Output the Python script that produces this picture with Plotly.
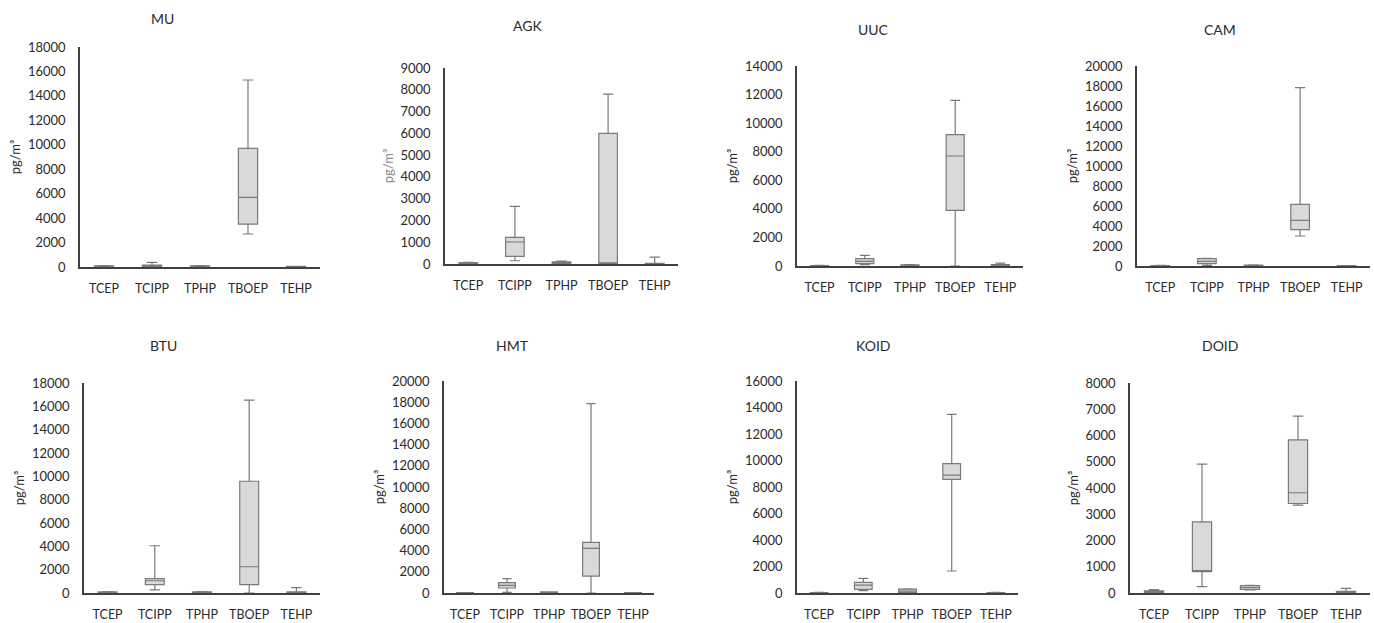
import plotly.graph_objects as go

W, H = 1374, 623

categories = ["TCEP", "TCIPP", "TPHP", "TBOEP", "TEHP"]
panel_names = ["MU", "AGK", "UUC", "CAM", "BTU", "HMT", "KOID", "DOID"]

# per category: [min, q1, median, q3, max]  (pg/m3)
MU = [[0, 20, 50, 100, 120], [10, 50, 100, 150, 380], [0, 20, 50, 100, 120],
      [2700, 3500, 5700, 9700, 15300], [0, 10, 20, 50, 60]]
AGK = [[0, 20, 40, 70, 80], [150, 350, 1010, 1220, 2650], [0, 20, 60, 100, 130],
       [0, 10, 20, 6000, 7800], [0, 5, 10, 30, 320]]
UUC = [[0, 5, 10, 30, 40], [100, 160, 330, 510, 750], [0, 20, 40, 80, 90],
       [0, 3900, 7700, 9190, 11600], [0, 20, 60, 100, 200]]
CAM = [[0, 10, 20, 50, 60], [70, 230, 470, 730, 770], [0, 30, 60, 100, 120],
       [3000, 3630, 4570, 6170, 17830], [0, 5, 10, 30, 40]]
BTU = [[0, 20, 50, 100, 120], [260, 710, 1050, 1230, 4050], [0, 20, 50, 100, 120],
       [0, 710, 2250, 9580, 16540], [0, 20, 50, 100, 460]]
HMT = [[0, 5, 10, 30, 40], [60, 470, 720, 975, 1350], [0, 30, 60, 100, 120],
       [0, 1600, 4210, 4780, 17860], [0, 5, 10, 30, 40]]
KOID = [[0, 5, 10, 30, 40], [180, 280, 600, 800, 1100], [0, 50, 150, 300, 320],
        [1660, 8580, 8900, 9760, 13480], [0, 5, 10, 30, 40]]
DOID = [[0, 20, 40, 80, 130], [240, 810, 850, 2710, 4910], [120, 140, 210, 280, 290],
        [3350, 3410, 3820, 5830, 6740], [0, 10, 30, 60, 180]]

panel_data = [MU, AGK, UUC, CAM, BTU, HMT, KOID, DOID]
y_max = [18000, 9000, 14000, 20000, 18000, 20000, 16000, 8000]
y_dtick = [2000, 1000, 2000, 2000, 2000, 2000, 2000, 1000]
y_title = "pg/m³"

# plot areas in pixels: (x0, x1, ytop, ybottom)
areas = [(80, 320, 47, 267), (445, 678, 68, 264), (797, 1023, 66, 266), (1137, 1370, 66, 266),
         (84, 320, 383, 593), (444, 654, 381, 593), (797, 1018, 381, 593), (1130, 1370, 383, 593)]
title_pos = [(162, 18), (527, 25), (873, 30), (1220, 30),
             (163, 345), (512, 345), (873, 345), (1220, 345)]

FONT = "Lato"
TXT = "#2b2b2b"

fig = go.Figure()
layout = dict(width=W, height=H, margin=dict(l=0, r=0, t=0, b=0),
              paper_bgcolor="white", plot_bgcolor="white", showlegend=False,
              font=dict(family=FONT, size=13, color=TXT), annotations=[])

for i, (name, data) in enumerate(zip(panel_names, panel_data)):
    k = i + 1
    xa = "x" if k == 1 else f"x{k}"
    ya = "y" if k == 1 else f"y{k}"
    fig.add_trace(go.Box(
        x=categories,
        lowerfence=[r[0] for r in data],
        q1=[r[1] for r in data],
        median=[r[2] for r in data],
        q3=[r[3] for r in data],
        upperfence=[r[4] for r in data],
        xaxis=xa, yaxis=ya,
        fillcolor="#d9d9d9",
        line=dict(color="#7a7a7a", width=1.2),
        whiskerwidth=0.55,
        width=0.4,
        boxpoints=False,
        hoverinfo="skip",
    ))
    x0, x1, yt, yb = areas[i]
    xkey = "xaxis" if k == 1 else f"xaxis{k}"
    ykey = "yaxis" if k == 1 else f"yaxis{k}"
    layout[xkey] = dict(
        domain=[x0 / W, x1 / W], anchor=ya, range=[-0.5, 4.5],
        showline=True, linecolor="#404040", linewidth=1.5, showgrid=False,
        ticks="", ticklabelstandoff=9, zeroline=False, automargin=False,
        tickfont=dict(family=FONT, size=12.5, color=TXT), fixedrange=True,
    )
    layout[ykey] = dict(
        domain=[1 - yb / H, 1 - yt / H], anchor=xa, range=[0, y_max[i]],
        dtick=y_dtick[i], tick0=0, tickformat="d",
        showline=True, linecolor="#404040", linewidth=1.5, showgrid=False,
        zeroline=False, ticks="", ticklabelstandoff=10, automargin=False,
        tickfont=dict(family=FONT, size=13, color=TXT), fixedrange=True,
        title=dict(text=y_title, standoff=4,
                   font=dict(family=FONT, size=13,
                             color="#8a8a8a" if name == "AGK" else TXT)),
    )
    tx, ty = title_pos[i]
    layout["annotations"].append(dict(
        text=name, x=tx / W, y=1 - ty / H, xref="paper", yref="paper",
        showarrow=False, xanchor="center", yanchor="middle",
        font=dict(family=FONT, size=14, color=TXT)))

fig.update_layout(**layout)
fig.write_html("out.html", config={"displayModeBar": False},
               post_script="document.body.style.margin='0';document.body.style.padding='0';")
